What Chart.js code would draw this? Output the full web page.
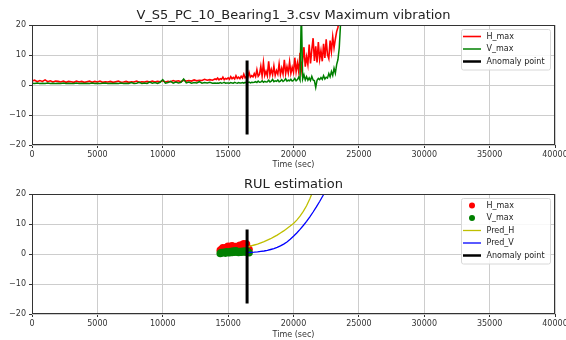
<!DOCTYPE html>
<html lang="en">
<head>
<meta charset="UTF-8">
<title>Bearing1_3 maximum vibration and RUL estimation</title>
<script src="https://cdn.jsdelivr.net/npm/chart.js@4.4.0/dist/chart.umd.min.js"></script>
<style>
  html, body { margin: 0; padding: 0; background: #fff; }
  canvas { display: block; }
</style>
</head>
<body>
<canvas id="vibChart" width="566" height="170"></canvas>
<canvas id="rulChart" width="566" height="170"></canvas>
<script>
// ---- data ----
const vibTime = [
  0,200,400,600,800,1000,1200,1400,1600,1800,
  2000,2200,2400,2600,2800,3000,3200,3400,3600,3800,
  4000,4200,4400,4600,4800,5000,5200,5400,5600,5800,
  6000,6200,6400,6600,6800,7000,7200,7400,7600,7800,
  8000,8200,8400,8600,8800,9000,9200,9400,9600,9800,
  10000,10200,10400,10600,10800,11000,11200,11400,11600,11800,
  12000,12200,12400,12600,12800,13000,13200,13400,13600,13800,
  14000,
  14100,14200,14300,14400,14500,14600,14700,14800,14900,
  15000,15100,15200,15300,15400,15500,15600,15700,15800,15900,
  16000,16100,16200,16300,16400,16500,16600,16700,16800,16900,
  17000,17100,17200,17300,17400,17500,17600,17700,17800,17900,
  18000,18100,18200,18300,18400,18500,18600,18700,18800,18900,
  19000,19100,19200,19300,19400,19500,19600,19700,19800,19900,
  20000,20100,20200,20300,20400,20500,20600,20700,20800,20900,
  21000,21100,21200,21300,21400,21500,21600,21700,21800,21900,
  22000,22100,22200,22300,22400,22500,22600,22700,22800,22900,
  23000,23100,23200,23300,23400,23500,23600,23700
];
const hMax = [
  1.3,1.6,1.1,1.5,1.2,1.7,1.1,1.4,1.0,1.3,
  1.2,1.0,1.3,0.9,1.2,1.1,0.9,1.3,1.0,1.2,
  0.9,1.1,1.3,0.9,1.2,1.0,1.3,0.9,1.1,1.0,
  1.2,0.9,1.1,1.3,0.9,1.0,1.2,0.9,1.1,1.0,
  1.3,0.9,1.1,1.0,1.2,1.0,1.3,1.0,1.2,1.1,
  1.4,1.0,1.2,1.1,1.5,1.2,1.4,1.1,1.6,1.3,
  1.5,1.3,1.7,1.4,1.6,1.5,1.9,1.6,1.8,1.6,
  2.0,
  1.8,2.3,1.7,2.1,1.9,2.6,1.8,2.2,2.0,
  2.4,1.9,2.8,2.1,2.5,2.0,3.1,2.2,2.6,2.1,
  2.9,2.3,3.6,2.4,2.8,2.5,4.2,2.6,3.1,2.7,
  3.8,2.8,5.1,2.9,3.5,6.2,3.0,7.4,3.2,4.6,
  3.1,7.9,3.3,5.2,3.4,6.3,3.2,4.8,3.6,7.0,
  3.5,5.6,3.7,8.4,3.8,6.1,4.0,7.7,3.9,5.9,
  4.2,9.1,4.5,7.3,4.4,10.7,5.0,8.2,12.6,6.1,
  9.4,6.8,13.5,7.2,11.8,15.6,8.0,12.9,7.5,14.3,
  8.6,11.4,7.9,13.7,9.0,15.2,10.1,8.8,14.8,11.2,
  16.1,12.4,15.3,17.8,19.2,22.5,26,30
];
const vMax = [
  0.6,0.5,0.7,0.5,0.6,0.5,0.7,0.5,0.6,0.5,
  0.6,0.5,0.7,0.5,0.6,0.5,0.5,0.7,0.5,0.6,
  0.5,0.6,0.5,0.7,0.5,0.6,0.5,0.6,0.7,0.5,
  0.6,0.5,0.6,0.5,0.7,0.5,0.6,0.5,0.8,0.5,
  0.6,0.9,0.5,0.7,0.5,1.0,0.6,0.8,0.5,0.9,
  1.8,0.6,0.8,1.2,0.6,1.0,0.7,0.9,2.0,0.7,
  1.0,0.6,0.8,0.7,1.1,0.6,0.8,0.7,0.9,0.6,
  0.7,
  0.6,0.7,0.6,0.8,0.6,0.7,0.9,0.6,0.7,
  0.7,0.6,0.8,0.7,0.6,0.9,0.7,0.6,0.8,0.7,
  0.7,0.8,0.6,0.9,0.7,0.8,1.0,0.7,0.9,0.8,
  0.9,1.1,0.8,1.3,0.9,1.0,1.4,0.9,1.2,1.0,
  1.1,1.6,1.0,1.3,1.9,1.1,1.4,1.2,1.7,1.1,
  1.3,1.8,1.2,1.5,2.1,1.3,1.6,1.4,1.9,1.3,
  1.5,2.2,1.4,1.8,2.6,1.6,25,2.0,3.4,1.7,
  2.8,1.6,2.4,1.5,2.9,1.7,1.4,-0.8,1.6,2.2,
  1.8,2.5,1.9,3.1,2.0,2.6,2.3,3.8,2.7,4.5,
  3.2,5.6,3.9,6.8,8.5,12.4,20.5,30
];

// window used for the fit (lower panel)
const fitTime = [14400,14500,14600,14700,14800,14900,15000,15100,15200,15300,15400,15500,
                 15600,15700,15800,15900,16000,16100,16200,16300,16400,16500,16600];
const fitH = [1.2,1.6,2.1,1.8,1.4,2.2,2.6,1.9,2.4,2.7,2.1,2.0,
              2.5,2.2,2.6,2.9,2.4,3.1,3.4,2.8,3.3,2.0,1.5];
const fitV = [0.2,0.5,0.4,0.6,0.3,0.7,0.5,0.4,0.8,0.5,1.0,0.6,
              1.1,0.7,0.5,0.8,0.6,0.9,0.7,1.0,0.6,0.8,0.4];

const predTime = [16500,16750,17000,17250,17500,17750,18000,18250,18500,18750,19000,19250,
                  19500,19750,20000,20250,20500,20750,21000,21250,21500,21750,22000,22250,22500,22750];
const predH = [2.4,2.7,3.0,3.3,3.7,4.1,4.6,5.1,5.7,6.3,7.0,7.7,
               8.5,9.3,10.2,11.3,12.6,14.2,16.1,18.4,21.1,24.0,27.2,30.7,34.5,38.6];
const predV = [0.5,0.55,0.6,0.7,0.85,1.0,1.2,1.5,1.8,2.2,2.7,3.3,
               4.0,4.9,5.9,7.0,8.2,9.5,10.9,12.4,14.0,15.7,17.5,19.4,21.4,23.5];

const anomalyTime = 16450;
const anomalyRange = [8.2, -16.5];

const xTicks = [0, 40000, 5000];   // min, max, step
const yTicks = [-20, 20, 10];

// ---- helpers ----
const pts = (xs, ys) => xs.map((x, i) => ({ x: x, y: ys[i] }));
const FONT = 'DejaVu Sans';
const minus = v => (v < 0 ? '\u2212' + Math.abs(v) : String(v));

// frame round the axes + title above them
const frameTitle = {
  id: 'frameTitle',
  afterDraw(chart, args, opts) {
    const { ctx, chartArea: a } = chart;
    ctx.save();
    ctx.strokeStyle = '#333';
    ctx.lineWidth = 1;
    ctx.strokeRect(Math.round(a.left) + 0.5, Math.round(a.top) + 0.5,
                   Math.round(a.right - a.left) - 1, Math.round(a.bottom - a.top) - 1);
    ctx.fillStyle = '#222';
    ctx.font = '13px "' + FONT + '"';
    ctx.textAlign = 'center';
    ctx.textBaseline = 'middle';
    ctx.fillText(opts.text, (a.left + a.right) / 2, a.top - 9);
    ctx.restore();
  }
};

// matplotlib style legend in the upper right corner of the axes
const boxLegend = {
  id: 'boxLegend',
  afterDatasetsDraw(chart) {
    const { ctx, chartArea: a } = chart;
    const sets = chart.data.datasets;
    const rowH = 12.5;
    const w = 89, h = sets.length * rowH + 3;
    const x0 = Math.round(a.right - 94), y0 = Math.round(a.top + 4);
    ctx.save();
    ctx.fillStyle = 'rgba(255,255,255,0.85)';
    ctx.strokeStyle = '#d8d8d8';
    ctx.lineWidth = 1;
    ctx.beginPath();
    ctx.roundRect(x0 + 0.5, y0 + 0.5, w, h, 2);
    ctx.fill();
    ctx.stroke();
    ctx.font = '8px "' + FONT + '"';
    ctx.textBaseline = 'middle';
    sets.forEach((ds, i) => {
      const cy = y0 + 7.5 + i * rowH;
      if (ds.showLine === false) {
        ctx.fillStyle = ds.backgroundColor;
        ctx.beginPath();
        ctx.arc(x0 + 11, cy, 3, 0, 2 * Math.PI);
        ctx.fill();
      } else {
        ctx.strokeStyle = ds.borderColor;
        ctx.lineWidth = Math.min(ds.borderWidth, 2.5);
        ctx.beginPath();
        ctx.moveTo(x0 + 2, cy);
        ctx.lineTo(x0 + 20, cy);
        ctx.stroke();
      }
      ctx.fillStyle = '#222';
      ctx.fillText(ds.label, x0 + 25.5, cy);
    });
    ctx.restore();
  }
};

function scales(xAxisHeight) {
  const tickFont = { family: FONT, size: 8 };
  const grid = { color: '#cdcdcd', lineWidth: 1, tickLength: 3, tickColor: '#333' };
  return {
    x: {
      type: 'linear', min: xTicks[0], max: xTicks[1],
      ticks: { stepSize: xTicks[2], autoSkip: false, maxRotation: 0, padding: 2,
               color: '#333', font: tickFont, callback: v => String(v) },
      grid: grid,
      border: { display: false },
      title: { display: true, text: 'Time (sec)', color: '#333', font: tickFont,
               padding: { top: 0, bottom: 0 } },
      afterFit: s => { s.height = xAxisHeight; s.paddingLeft = 0; s.paddingRight = 0; }
    },
    y: {
      min: yTicks[0], max: yTicks[1],
      ticks: { stepSize: yTicks[2], padding: 3, color: '#333', font: tickFont, callback: minus },
      grid: grid,
      border: { display: false },
      afterFit: s => { s.width = 32; s.paddingTop = 0; s.paddingBottom = 0; }
    }
  };
}

const lineSet = (label, data, color, width, order) => ({
  label: label, data: data, showLine: true, borderColor: color, backgroundColor: color,
  borderWidth: width, pointRadius: 0, tension: 0, order: order
});

const anomalySet = order => lineSet('Anomaly point',
  [{ x: anomalyTime, y: anomalyRange[0] }, { x: anomalyTime, y: anomalyRange[1] }], '#000', 3, order);

// ---- upper panel: maximum vibration ----
new Chart(document.getElementById('vibChart'), {
  type: 'scatter',
  data: {
    datasets: [
      lineSet('H_max', pts(vibTime, hMax), '#ff0000', 1.6, 2),
      lineSet('V_max', pts(vibTime, vMax), '#008000', 1.5, 1),
      anomalySet(0)
    ]
  },
  options: {
    responsive: false,
    animation: false,
    layout: { padding: { top: 25, right: 11, left: 0, bottom: 0 } },
    scales: scales(25),
    plugins: {
      legend: { display: false },
      tooltip: { enabled: false },
      frameTitle: { text: 'V_S5_PC_10_Bearing1_3.csv Maximum vibration' }
    }
  },
  plugins: [boxLegend, frameTitle]
});

// ---- lower panel: RUL estimation ----
const dotSet = (label, data, color, order) => ({
  label: label, data: data, showLine: false, backgroundColor: color, borderColor: color,
  borderWidth: 0, pointRadius: 3.8, pointBorderWidth: 0, order: order
});

new Chart(document.getElementById('rulChart'), {
  type: 'scatter',
  data: {
    datasets: [
      dotSet('H_max', pts(fitTime, fitH), '#ff0000', 4),
      dotSet('V_max', pts(fitTime, fitV), '#008000', 3),
      lineSet('Pred_H', pts(predTime, predH), '#bfbf00', 1.3, 2),
      lineSet('Pred_V', pts(predTime, predV), '#0000ff', 1.3, 1),
      anomalySet(0)
    ]
  },
  options: {
    responsive: false,
    animation: false,
    layout: { padding: { top: 24, right: 11, left: 0, bottom: 0 } },
    scales: scales(26),
    plugins: {
      legend: { display: false },
      tooltip: { enabled: false },
      frameTitle: { text: 'RUL estimation' }
    }
  },
  plugins: [boxLegend, frameTitle]
});
</script>
</body>
</html>
